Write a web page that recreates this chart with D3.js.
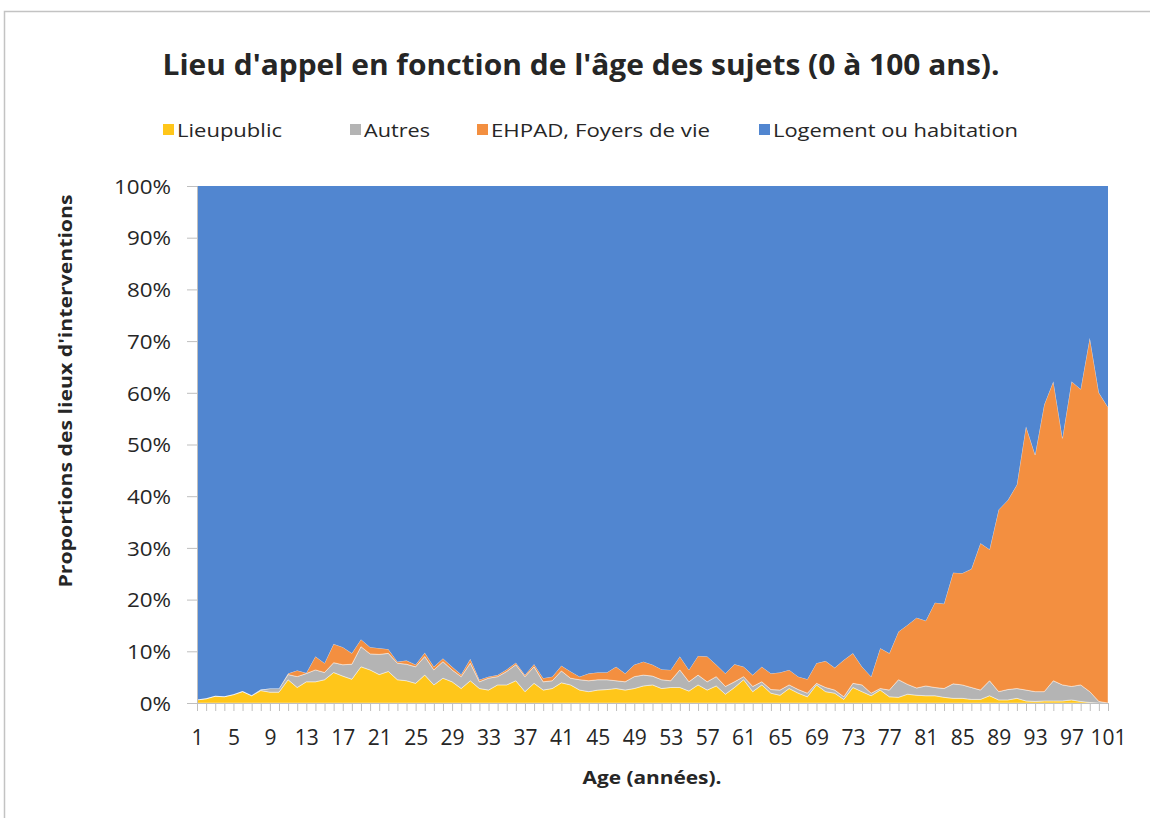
<!DOCTYPE html>
<html><head><meta charset="utf-8">
<script src="https://cdn.jsdelivr.net/npm/d3@7"></script>
<style>
body{margin:0;background:#fff;}
svg{display:block;}
text{font-family:"Open Sans",sans-serif;fill:#262626;}
</style>
</head><body>
<svg id="c" width="1150" height="818"></svg>
<script>
// ---------- DATA ----------
const ages = [1,2,3,4,5,6,7,8,9,10,11,12,13,14,15,16,17,18,19,20,21,22,23,24,25,26,27,28,29,30,31,32,33,34,35,36,37,38,39,40,41,42,43,44,45,46,47,48,49,50,51,52,53,54,55,56,57,58,59,60,61,62,63,64,65,66,67,68,69,70,71,72,73,74,75,76,77,78,79,80,81,82,83,84,85,86,87,88,89,90,91,92,93,94,95,96,97,98,99,100,101];

const lieuPublic = [0.6,0.8,1.3,1.2,1.6,2.2,1.4,2.4,2.1,2.1, 4.5,3.0,4.1,4.1,4.5,5.9,5.2,4.6,7.0,6.4, 5.5,6.1,4.5,4.3,3.8,5.4,3.5,4.8,4.1,2.8, 4.3,2.8,2.5,3.5,3.5,4.3,2.2,3.8,2.5,2.8, 3.9,3.5,2.5,2.2,2.5,2.6,2.8,2.5,2.8,3.3, 3.5,2.8,3.0,3.0,2.3,3.5,2.5,3.3,1.7,3.0, 4.5,2.2,3.5,1.9,1.5,2.8,1.9,1.2,3.5,2.2, 1.9,0.7,3.0,2.2,1.4,2.5,1.2,1.1,1.7,1.5, 1.4,1.4,1.1,0.9,0.9,0.7,0.7,1.4,0.6,0.6, 0.9,0.4,0.3,0.4,0.4,0.4,0.6,0.3,0.1,0, 0];

const autres = [0.1,0.1,0.1,0.1,0.1,0.1,0.1,0.2,0.7,0.7, 1.0,2.1,1.6,2.3,1.4,1.9,2.2,2.9,3.9,3.1, 3.9,3.5,3.2,3.2,3.2,3.6,2.9,3.2,2.3,2.3, 3.4,1.3,2.3,1.6,2.6,3.1,2.9,3.2,1.6,1.5, 2.3,1.3,2.0,2.1,2.0,1.9,1.5,1.6,2.3,2.1, 1.7,1.7,1.3,3.4,1.8,1.9,1.6,1.8,1.5,1.1, 0.6,1.0,0.6,0.7,1.0,0.7,0.7,0.7,0.3,0.8, 0.6,0.5,0.8,1.3,0.5,0.3,1.3,3.4,1.9,1.4, 1.9,1.6,1.7,2.8,2.6,2.3,1.8,2.9,1.6,2.0, 1.9,2.1,1.9,1.8,3.9,3.1,2.6,3.2,2.1,0.3, 0];

const ehpad = [0,0,0,0,0,0,0,0,0,0, 0.2,1.2,0.1,2.6,1.8,3.6,3.4,2.1,1.4,1.3, 1.2,0.8,0.3,0.7,0.4,0.7,0.6,0.6,0.6,0.4, 0.8,0.4,0.3,0.3,0.4,0.4,0.3,0.5,0.7,0.8, 1.0,1.3,0.6,1.4,1.4,1.4,2.7,1.6,2.3,2.6, 2.2,2.0,2.1,2.6,2.3,3.7,4.9,2.3,2.5,3.4, 1.9,2.2,2.9,3.1,3.4,2.9,2.5,2.7,3.9,5.1, 4.3,7.1,5.8,3.5,3.2,7.8,7.1,9.3,11.5,13.6, 12.6,16.4,16.4,21.5,21.6,22.9,28.4,25.4,35.2,36.6, 39.4,51.0,45.8,55.5,57.9,47.7,59.0,57.2,68.4,59.7, 57.2];

const logement = [99.3,99.1,98.6,98.7,98.3,97.7,98.5,97.4,97.2,97.2, 94.3,93.7,94.2,91.0,92.3,88.6,89.2,90.4,87.7,89.2, 89.4,89.6,92.0,91.8,92.6,90.3,93.0,91.4,93.0,94.5, 91.5,95.5,94.9,94.6,93.5,92.2,94.6,92.5,95.2,94.9, 92.8,93.9,94.9,94.3,94.1,94.1,93.0,94.3,92.6,92.0, 92.6,93.5,93.6,91.0,93.6,90.9,91.0,92.6,94.3,92.5, 93.0,94.6,93.0,94.3,94.1,93.6,94.9,95.4,92.3,91.9, 93.2,91.7,90.4,93.0,94.9,89.4,90.4,86.2,84.9,83.5, 84.1,80.6,80.8,74.8,74.9,74.1,69.1,70.3,62.6,60.8, 57.8,46.5,52.0,42.3,37.8,48.8,37.8,39.3,29.4,40.0, 42.8];

const seriesNames = ["Lieupublic","Autres","EHPAD, Foyers de vie","Logement ou habitation"];
const seriesColors = ["#FFC61A","#B4B4B4","#F38F40","#5186D0"];
const xTickLabels = ["1","5","9","13","17","21","25","29","33","37","41","45","49","53","57","61","65","69","73","77","81","85","89","93","97","101"];
const yTickLabels = ["0%","10%","20%","30%","40%","50%","60%","70%","80%","90%","100%"];
const yTickValues = [0,0.1,0.2,0.3,0.4,0.5,0.6,0.7,0.8,0.9,1];

// ---------- BUILD ----------
const svg = d3.select("#c");
const L = 197, R = 1108, T = 186, B = 703;

// frame
svg.append("rect").attr("x",4.5).attr("y",11.5).attr("width",1170).attr("height",830)
  .attr("fill","none").attr("stroke","#c3c3c3").attr("stroke-width",1.5);

const rows = ages.map((a,i)=>({age:a, s0:lieuPublic[i], s1:autres[i], s2:ehpad[i], s3:logement[i]}));
const keys = ["s0","s1","s2","s3"];
const stack = d3.stack().keys(keys).offset(d3.stackOffsetExpand);
const layers = stack(rows);

const x = d3.scalePoint().domain(ages).range([L,R]);
const y = d3.scaleLinear().domain([0,1]).range([B,T]);

const area = d3.area().x(d=>x(d.data.age)).y0(d=>y(d[0])).y1(d=>y(d[1]));

svg.append("g").selectAll("path").data(layers).join("path")
  .attr("d",area).attr("fill",(d,i)=>seriesColors[i])
  .attr("stroke",(d,i)=> i<3 ? "rgba(255,255,255,0.55)" : "none")
  .attr("stroke-width",0.8);

function stretch(sel,k){ sel.each(function(){ const w=this.getComputedTextLength(); d3.select(this).attr("textLength",w*k).attr("lengthAdjust","spacingAndGlyphs"); }); }
function fitW(sel,w){ sel.each(function(){ d3.select(this).attr("textLength",w).attr("lengthAdjust","spacingAndGlyphs"); }); }

// y axis
const yAxis = d3.axisLeft(y).tickValues(yTickValues).tickFormat((d,i)=>yTickLabels[i]).tickSize(10).tickPadding(16);
const gy = svg.append("g").attr("transform",`translate(${L},0)`).call(yAxis);
gy.select(".domain").attr("stroke","#bfbfbf");
gy.selectAll(".tick line").attr("stroke","#bfbfbf");
gy.selectAll(".tick text").attr("font-size",20).attr("font-family","Open Sans").attr("fill","#262626").attr("dy","0.36em");
stretch(gy.selectAll(".tick text"),1.12);

// x axis
const xAxis = d3.axisBottom(x).tickFormat(d=> xTickLabels.includes(String(d)) ? String(d) : "").tickSize(8).tickPadding(19);
const gx = svg.append("g").attr("transform",`translate(0,${B})`).call(xAxis);
gx.select(".domain").attr("stroke","#bfbfbf");
gx.selectAll(".tick line").attr("stroke","#bfbfbf");
gx.selectAll(".tick text").attr("font-size",21).attr("font-family","Open Sans").attr("fill","#262626");

// title
const title = svg.append("text").attr("x",581).attr("y",75).attr("text-anchor","middle")
  .attr("font-size",29).attr("font-weight","bold")
  .text("Lieu d'appel en fonction de l'âge des sujets (0 à 100 ans).");
fitW(title,837);

// legend
const legX = [163,350,477,759];
const legW = [105,66,219,245];
seriesNames.forEach((n,i)=>{
  svg.append("rect").attr("x",legX[i]).attr("y",124).attr("width",11).attr("height",11).attr("fill",seriesColors[i]);
  const t = svg.append("text").attr("x",legX[i]+14).attr("y",137).attr("font-size",19).text(n);
  fitW(t,legW[i]);
});

// axis titles
const xt = svg.append("text").attr("x",652).attr("y",784).attr("text-anchor","middle")
  .attr("font-size",18).attr("font-weight","bold").text("Age (années).");
fitW(xt,139);
const yt = svg.append("text").attr("transform","translate(72,391) rotate(-90)").attr("text-anchor","middle")
  .attr("font-size",18).attr("font-weight","bold").text("Proportions des lieux d'interventions");
fitW(yt,393);
</script>
</body></html>
